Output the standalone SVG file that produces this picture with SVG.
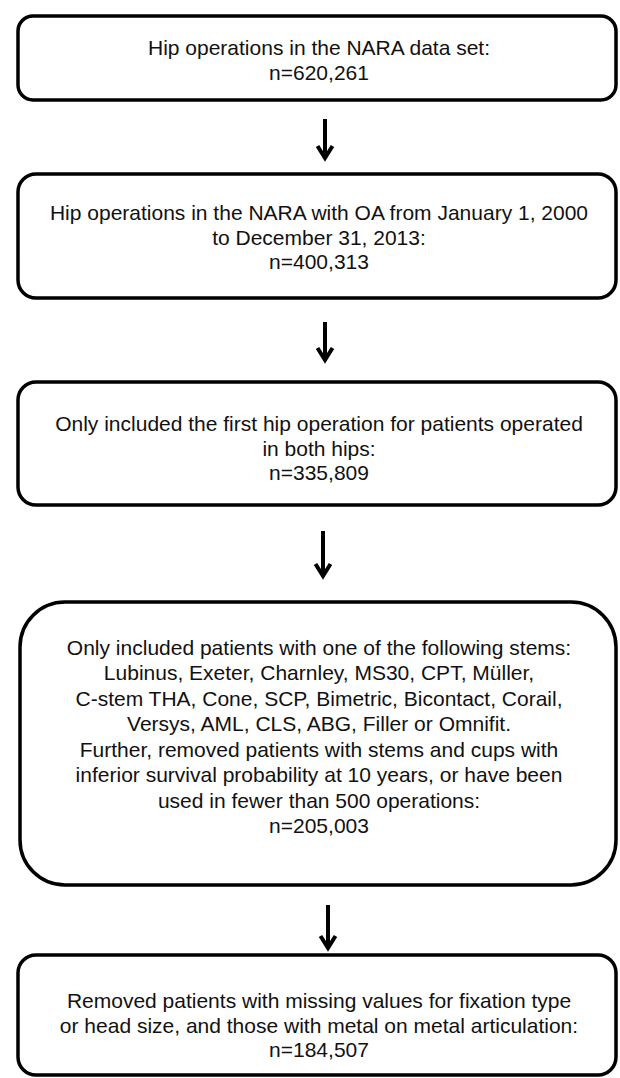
<svg xmlns="http://www.w3.org/2000/svg" width="620" height="1078" viewBox="0 0 620 1078">
<style>
.box{fill:#fff;stroke:#000;stroke-width:3.5}
.t{font-family:"Liberation Sans",Arial,sans-serif;font-size:21px;fill:#111;text-anchor:middle}
.arr{stroke:#000;stroke-width:4;fill:none;stroke-linecap:butt;stroke-linejoin:miter;stroke-miterlimit:10}
</style>
<rect width="620" height="1078" fill="#fff"/>
<g id="n1">
<rect class="box" x="18" y="16" width="598" height="84" rx="15"/>
<text class="t" x="319" y="55">Hip operations in the NARA data set:</text>
<text class="t" x="319" y="80">n=620,261</text>
</g>
<g id="n2">
<rect class="box" x="18" y="174" width="598" height="124" rx="18"/>
<text class="t" x="319" y="220">Hip operations in the NARA with OA from January 1, 2000</text>
<text class="t" x="319" y="245">to December 31, 2013:</text>
<text class="t" x="319" y="269">n=400,313</text>
</g>
<g id="n3">
<rect class="box" x="18" y="382" width="598" height="123" rx="18"/>
<text class="t" x="319" y="431">Only included the first hip operation for patients operated</text>
<text class="t" x="319" y="456">in both hips:</text>
<text class="t" x="319" y="480">n=335,809</text>
</g>
<g id="n4">
<rect class="box" x="20" y="602" width="596" height="283" rx="45"/>
<text class="t" x="319" y="655">Only included patients with one of the following stems:</text>
<text class="t" x="319" y="680">Lubinus, Exeter, Charnley, MS30, CPT, Müller,</text>
<text class="t" x="319" y="706">C-stem THA, Cone, SCP, Bimetric, Bicontact, Corail,</text>
<text class="t" x="319" y="731">Versys, AML, CLS, ABG, Filler or Omnifit.</text>
<text class="t" x="319" y="757">Further, removed patients with stems and cups with</text>
<text class="t" x="319" y="782">inferior survival probability at 10 years, or have been</text>
<text class="t" x="319" y="808">used in fewer than 500 operations:</text>
<text class="t" x="319" y="833">n=205,003</text>
</g>
<g id="n5">
<rect class="box" x="18" y="955" width="598" height="120" rx="18"/>
<text class="t" x="319" y="1008">Removed patients with missing values for fixation type</text>
<text class="t" x="319" y="1033">or head size, and those with metal on metal articulation:</text>
<text class="t" x="319" y="1057">n=184,507</text>
</g>
<g id="connectors">
<path class="arr" d="M325 119 V157 M317.5 146 L325 158 L332.5 146"/>
<path class="arr" d="M325 322 V359 M317.5 348 L325 360 L332.5 348"/>
<path class="arr" d="M323 531 V575 M315.5 564 L323 576 L330.5 564"/>
<path class="arr" d="M328 905 V947 M320.5 936 L328 948 L335.5 936"/>
</g>
</svg>
